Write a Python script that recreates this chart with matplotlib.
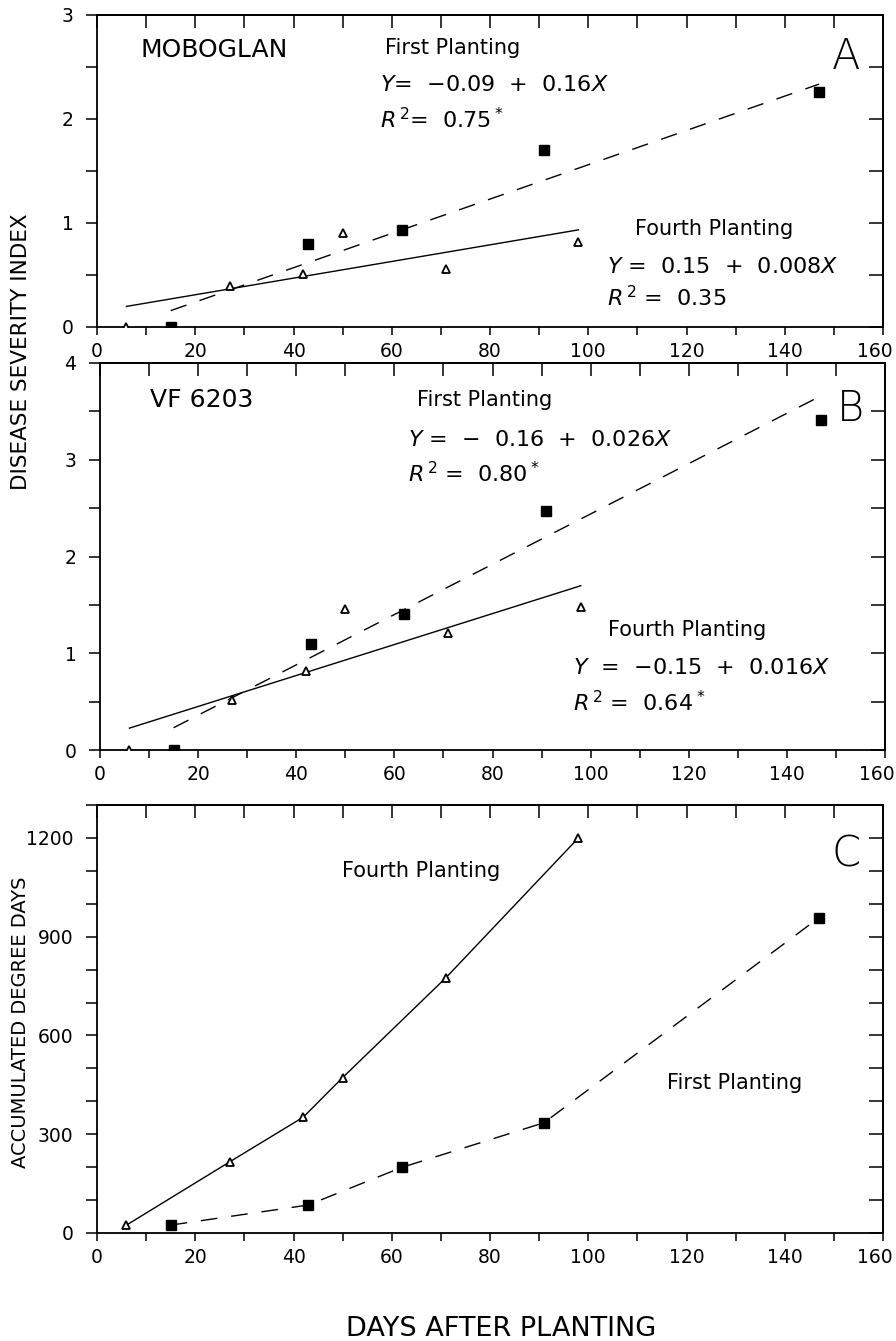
import matplotlib
matplotlib.use("Agg")
import matplotlib.pyplot as plt
from matplotlib.transforms import ScaledTranslation
import numpy as np

plt.rcParams['font.family'] = ['DejaVu Sans']
plt.rcParams['mathtext.fontset'] = 'dejavusans'

# ---- data ----
days_first = [15, 43, 62, 91, 147]
days_fourth = [6, 27, 42, 50, 71, 98]

moboglan_first = [0.0, 0.80, 0.93, 1.70, 2.26]
moboglan_fourth = [0.0, 0.39, 0.51, 0.90, 0.56, 0.82]
vf6203_first = [0.0, 1.10, 1.41, 2.47, 3.41]
vf6203_fourth = [0.0, 0.52, 0.82, 1.46, 1.21, 1.48]

# regression lines (intercept, slope) as drawn
moboglan_first_fit = (-0.09, 0.0165)
moboglan_fourth_fit = (0.15, 0.008)
vf6203_first_fit = (-0.16, 0.026)
vf6203_fourth_fit = (0.13, 0.016)

degree_days_first = [24, 85, 199, 335, 958]
degree_days_fourth = [24, 216, 352, 472, 775, 1200]

x_ticks = [0, 20, 40, 60, 80, 100, 120, 140, 160]

fig = plt.figure(figsize=(8.96, 13.41), dpi=100)

def px_axes(l, r, t, b):
    W, H = 896, 1341
    return fig.add_axes([l / W, 1 - b / H, (r - l) / W, (b - t) / H])

axA = px_axes(97, 883, 15, 327)
axB = px_axes(100, 885, 363, 750)
axC = px_axes(97, 883, 805, 1233)

first_kw = dict(linestyle='none', marker='s', markersize=7, color='black',
                markerfacecolor='black', zorder=5)
fourth_kw = dict(linestyle='none', marker='^', markersize=6, color='black',
                 markerfacecolor='white', markeredgewidth=1.3, zorder=5)
dash = (0, (12, 10))
tick_fs = 13.5
eq_fs = 16
lab_fs = 15


def style(ax, ylim, yticks, ylabels, minor_step):
    ax.set_xlim(0, 160)
    ax.set_ylim(*ylim)
    ax.set_xticks(x_ticks)
    ax.set_xticks(np.arange(0, 161, 10), minor=True)
    ax.set_yticks(yticks)
    ax.set_yticklabels(ylabels)
    ax.set_yticks(np.arange(ylim[0], ylim[1] + 1e-9, minor_step), minor=True)
    ax.tick_params(axis='x', which='major', direction='out', length=6, width=1.1,
                   labelsize=tick_fs, pad=5)
    ax.tick_params(axis='x', which='minor', direction='out', length=6, width=1.1)
    ax.tick_params(axis='y', which='both', direction='out', length=8, width=1.1,
                   labelsize=tick_fs, pad=9)
    for s in ax.spines.values():
        s.set_linewidth(1.3)
    top = ax.secondary_xaxis('top')
    top.set_xticks(np.arange(0, 161, 10))
    top.tick_params(direction='in', length=9, width=1.1, labelsize=0, labeltop=False)
    top.spines['top'].set_linewidth(1.3)
    right = ax.secondary_yaxis('right')
    right.set_yticks(np.arange(ylim[0], ylim[1] + 1e-9, minor_step))
    right.tick_params(direction='in', length=10, width=1.1, labelsize=0, labelright=False)
    right.spines['right'].set_linewidth(1.3)
    # shift last x label so it stays inside the figure, as in the reference
    lbl = ax.get_xticklabels()[-1]
    lbl.set_transform(lbl.get_transform() + ScaledTranslation(-0.08, 0, fig.dpi_scale_trans))


def fit_line(ax, xs, fit, **kw):
    x0, x1 = min(xs), max(xs)
    xx = np.array([x0, x1])
    ax.plot(xx, fit[0] + fit[1] * xx, color='black', lw=1.0, **kw)


# ---- Panel A ----
fit_line(axA, days_first, moboglan_first_fit, linestyle=dash)
fit_line(axA, days_fourth, moboglan_fourth_fit, linestyle='-')
axA.plot(days_first, moboglan_first, **first_kw)
axA.plot(days_fourth, moboglan_fourth, **fourth_kw)
style(axA, (0, 3), [0, 1, 2, 3], ['0', '1', '2', '3'], 0.5)
axA.text(8.8, 2.66, 'MOBOGLAN', fontsize=18, ha='left', va='center')
axA.text(58.6, 2.68, 'First Planting', fontsize=lab_fs, ha='left', va='center')
axA.text(57.6, 2.33, r'$Y$=  −0.09  +  0.16$X$', fontsize=eq_fs, ha='left', va='center')
axA.text(57.6, 1.99, r'$R$$\,^{2}$=  0.75$\,^{*}$', fontsize=eq_fs, ha='left', va='center')
axA.text(152.5, 2.60, 'A', fontsize=30, ha='center', va='center', fontweight='light')
axA.text(109.5, 0.94, 'Fourth Planting', fontsize=lab_fs, ha='left', va='center')
axA.text(103.8, 0.58, r'$Y$ =  0.15  +  0.008$X$', fontsize=eq_fs, ha='left', va='center')
axA.text(103.8, 0.28, r'$R$$\,^{2}$ =  0.35', fontsize=eq_fs, ha='left', va='center')

# ---- Panel B ----
fit_line(axB, days_first, vf6203_first_fit, linestyle=dash)
fit_line(axB, days_fourth, vf6203_fourth_fit, linestyle='-')
axB.plot(days_first, vf6203_first, **first_kw)
axB.plot(days_fourth, vf6203_fourth, **fourth_kw)
style(axB, (0, 4), [0, 1, 2, 3, 4], ['0', '1', '2', '3', '4'], 0.5)
axB.text(10.2, 3.62, 'VF 6203', fontsize=18, ha='left', va='center')
axB.text(64.6, 3.62, 'First Planting', fontsize=lab_fs, ha='left', va='center')
axB.text(62.8, 3.20, r'$Y$ =  −  0.16  +  0.026$X$', fontsize=eq_fs, ha='left', va='center')
axB.text(62.8, 2.86, r'$R$$\,^{2}$ =  0.80$\,^{*}$', fontsize=eq_fs, ha='left', va='center')
axB.text(152.9, 3.53, 'B', fontsize=30, ha='center', va='center', fontweight='light')
axB.text(103.5, 1.24, 'Fourth Planting', fontsize=lab_fs, ha='left', va='center')
axB.text(96.4, 0.85, r'$Y$  =  −0.15  +  0.016$X$', fontsize=eq_fs, ha='left', va='center')
axB.text(96.4, 0.49, r'$R$$\,^{2}$ =  0.64$\,^{*}$', fontsize=eq_fs, ha='left', va='center')

# ---- Panel C ----
axC.plot(days_fourth, degree_days_fourth, color='black', lw=1.0, linestyle='-')
axC.plot(days_first, degree_days_first, color='black', lw=1.0, linestyle=dash)
axC.plot(days_first, degree_days_first, **first_kw)
axC.plot(days_fourth, degree_days_fourth, **fourth_kw)
style(axC, (0, 1300), [0, 300, 600, 900, 1200], ['0', '300', '600', '900', '1200'], 100)
axC.text(49.9, 1100, 'Fourth Planting', fontsize=lab_fs, ha='left', va='center')
axC.text(116.0, 455, 'First Planting', fontsize=lab_fs, ha='left', va='center')
axC.text(152.5, 1152, 'C', fontsize=30, ha='center', va='center', fontweight='light')

fig.text(21 / 896, 1 - 352 / 1341, 'DISEASE SEVERITY INDEX', rotation=90,
         fontsize=15.5, ha='center', va='center')
fig.text(21 / 896, 1 - 1022 / 1341, 'ACCUMULATED DEGREE DAYS', rotation=90,
         fontsize=14, ha='center', va='center')
fig.text(501 / 896, 1 - 1329 / 1341, 'DAYS AFTER PLANTING', fontsize=19.5,
         ha='center', va='center')

fig.savefig('out.png', dpi=100, facecolor='white')
